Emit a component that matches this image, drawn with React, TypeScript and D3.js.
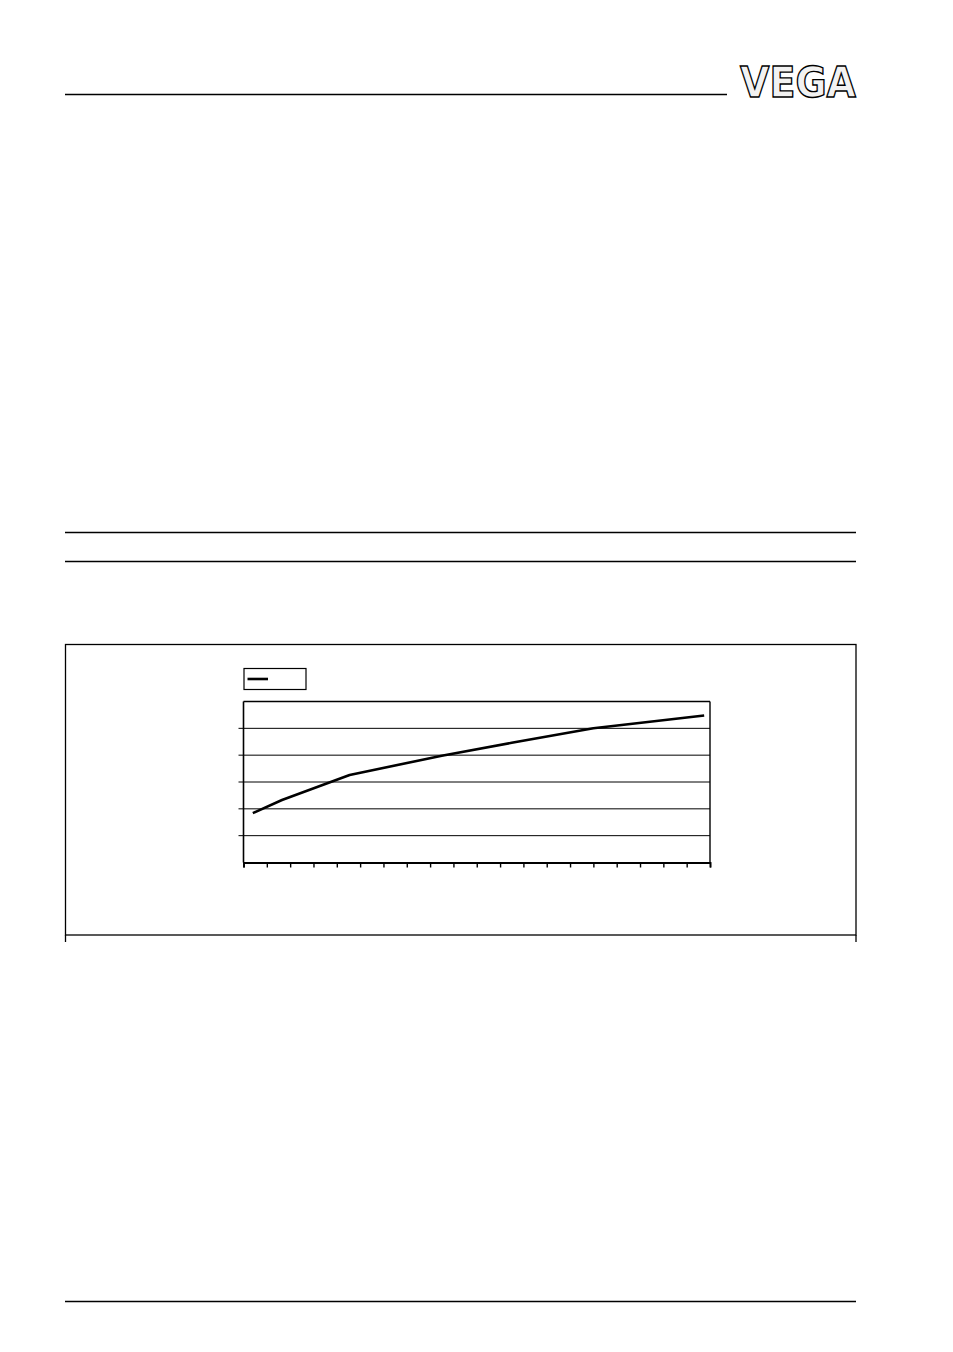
import React, { useRef, useEffect } from 'react';
import * as d3 from 'd3';

// series (x in category steps, y in arbitrary units)
const xValues = [0.4, 1.65, 4.55, 8.5, 11.5, 15, 19.75];
const yValues = [18.4, 23.3, 32.6, 39.8, 44.6, 50.0, 54.8];
const xTicks = d3.range(0, 21, 1);
const yGrid = [10, 20, 30, 40, 50];
const logoText = 'VEGA';

const W = 953;
const H = 1352;

const App: React.FC = () => {
    const svgRef = useRef<SVGSVGElement | null>(null);

    useEffect(() => {
        if (!svgRef.current) return;
        const svg = d3.select(svgRef.current);
        svg.selectAll('*').remove();

        // page furniture
        svg.append('rect').attr('width', W).attr('height', H).attr('fill', '#fff');
        const rule = (x1: number, x2: number, y: number, w = 1.3) =>
            svg.append('line').attr('x1', x1).attr('x2', x2).attr('y1', y).attr('y2', y)
                .attr('stroke', '#000').attr('stroke-width', w);
        rule(65, 727, 94.5);
        rule(65, 856, 532.5);
        rule(65, 856, 561.5);
        rule(65, 856, 1301.5);

        // logo
        svg.append('text')
            .attr('x', 740).attr('y', 97)
            .attr('textLength', 116).attr('lengthAdjust', 'spacingAndGlyphs')
            .attr('font-family', 'DejaVu Sans').attr('font-weight', 'bold')
            .attr('font-size', 42)
            .attr('fill', '#f2f2f2').attr('stroke', '#000').attr('stroke-width', 1.4)
            .text(logoText);

        // chart frame
        const frame = svg.append('g').attr('fill', 'none').attr('stroke', '#000').attr('stroke-width', 1.3);
        frame.append('rect').attr('x', 65.5).attr('y', 644.5).attr('width', 790.5).attr('height', 290.5);
        frame.append('line').attr('x1', 65.5).attr('x2', 65.5).attr('y1', 935).attr('y2', 942);
        frame.append('line').attr('x1', 856).attr('x2', 856).attr('y1', 935).attr('y2', 942);

        // plot area
        const left = 243.5, right = 710, top = 701.5, bottom = 862.5;
        const x = d3.scaleLinear().domain([0, 20]).range([left, right]);
        const y = d3.scaleLinear().domain([0, 60]).range([bottom, top]);

        const grid = svg.append('g');
        grid.selectAll('line.grid')
            .data(yGrid)
            .join('line')
            .attr('x1', left - 5).attr('x2', right)
            .attr('y1', d => y(d)).attr('y2', d => y(d))
            .attr('stroke', '#000').attr('stroke-width', 1);

        // border: top / right / left, bottom axis
        grid.append('line').attr('x1', left).attr('x2', right).attr('y1', top).attr('y2', top)
            .attr('stroke', '#000').attr('stroke-width', 1.6);
        grid.append('line').attr('x1', right).attr('x2', right).attr('y1', top).attr('y2', bottom)
            .attr('stroke', '#000').attr('stroke-width', 1.4);
        grid.append('line').attr('x1', left).attr('x2', left).attr('y1', top).attr('y2', bottom)
            .attr('stroke', '#000').attr('stroke-width', 1.6);

        const xAxis = d3.axisBottom(x).tickValues(xTicks).tickSize(5).tickFormat(() => '');
        const gx = svg.append('g').attr('transform', `translate(0,${bottom})`).call(xAxis);
        gx.select('.domain').attr('stroke', '#000').attr('stroke-width', 1.8);
        gx.selectAll('.tick line').attr('stroke', '#000').attr('stroke-width', 1.4);

        // series line
        const pts = xValues.map((v, i) => [v, yValues[i]] as [number, number]);
        svg.append('path')
            .datum(pts)
            .attr('fill', 'none')
            .attr('stroke', '#000')
            .attr('stroke-width', 2.6)
            .attr('stroke-linejoin', 'round')
            .attr('d', d3.line<[number, number]>().x(d => x(d[0])).y(d => y(d[1])));

        // legend
        const lg = svg.append('g');
        lg.append('rect').attr('x', 244).attr('y', 668.5).attr('width', 62).attr('height', 21)
            .attr('fill', '#fff').attr('stroke', '#000').attr('stroke-width', 1.2);
        lg.append('line').attr('x1', 247.5).attr('x2', 268).attr('y1', 679).attr('y2', 679)
            .attr('stroke', '#000').attr('stroke-width', 2.6);
    }, []);

    return (
        <div style={{ position: 'absolute', left: 0, top: 0 }}>
            <svg ref={svgRef} width={W} height={H} style={{ display: 'block' }} />
        </div>
    );
};

export default App;
